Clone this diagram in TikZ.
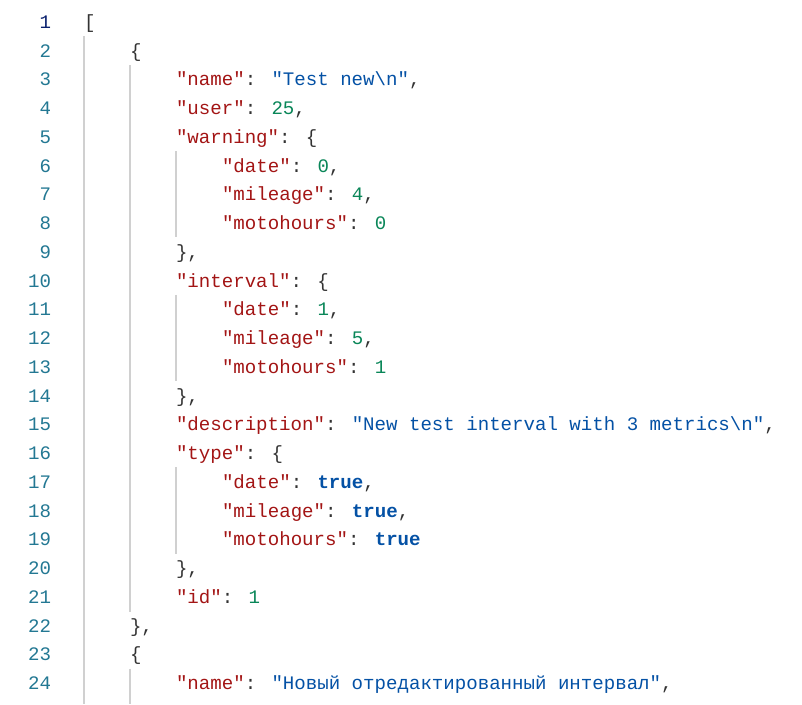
\documentclass[tikz,border=0pt]{standalone}
\usepackage{fontspec}
\newfontfamily\codefont[WordSpace={1,0,0}]{Liberation Mono}
\definecolor{jkey}{HTML}{A31515}
\definecolor{jstr}{HTML}{0451A5}
\definecolor{jnum}{HTML}{098658}
\definecolor{jpun}{HTML}{333333}
\definecolor{lnum}{HTML}{237893}
\definecolor{lnact}{HTML}{0B216F}
\definecolor{guide}{HTML}{D0D0D0}
\newcommand{\jk}[1]{\textcolor{jkey}{"#1"}}
\newcommand{\js}[1]{\textcolor{jstr}{"#1"}}
\newcommand{\jn}[1]{\textcolor{jnum}{#1}}
\newcommand{\jt}{\textcolor{jstr}{\bfseries true}}
\newcommand{\nl}{\textbackslash n}
\tikzset{
  codeline/.style={anchor=base west, inner sep=0pt, outer sep=0pt, text=jpun,
    font=\codefont\fontsize{19.1}{23}\selectfont},
  lineno/.style={anchor=base east, inner sep=0pt, outer sep=0pt, text=lnum,
    font=\codefont\fontsize{19.1}{23}\selectfont},
  indentguide/.style={draw=guide, line width=1.2pt}
}
\begin{document}
\begin{tikzpicture}[x=1pt,y=-1pt]
\useasboundingbox[fill=white] (0,0) rectangle (802,704);
% indent guides
\draw[indentguide] (84,36) coordinate (g1a) -- (84,704) coordinate (g1b);
\draw[indentguide] (130,65) coordinate (g2a) -- (130,611.75) coordinate (g2b);
\draw[indentguide] (130,668.5) coordinate (g2c) -- (130,704) coordinate (g2d);
\draw[indentguide] (176,151) coordinate (g3a) -- (176,237.25) coordinate (g3b);
\draw[indentguide] (176,294.75) coordinate (g3c) -- (176,381) coordinate (g3d);
\draw[indentguide] (176,467.25) coordinate (g3e) -- (176,553.5) coordinate (g3f);
% line numbers
\node[lineno, text=lnact] (n1) at (51,28.3) {1};
\node[lineno] (n2) at (51,57.05) {2};
\node[lineno] (n3) at (51,85.8) {3};
\node[lineno] (n4) at (51,114.55) {4};
\node[lineno] (n5) at (51,143.3) {5};
\node[lineno] (n6) at (51,172.05) {6};
\node[lineno] (n7) at (51,200.8) {7};
\node[lineno] (n8) at (51,229.55) {8};
\node[lineno] (n9) at (51,258.3) {9};
\node[lineno] (n10) at (51,287.05) {10};
\node[lineno] (n11) at (51,315.8) {11};
\node[lineno] (n12) at (51,344.55) {12};
\node[lineno] (n13) at (51,373.3) {13};
\node[lineno] (n14) at (51,402.05) {14};
\node[lineno] (n15) at (51,430.8) {15};
\node[lineno] (n16) at (51,459.55) {16};
\node[lineno] (n17) at (51,488.3) {17};
\node[lineno] (n18) at (51,517.05) {18};
\node[lineno] (n19) at (51,545.8) {19};
\node[lineno] (n20) at (51,574.55) {20};
\node[lineno] (n21) at (51,603.3) {21};
\node[lineno] (n22) at (51,632.05) {22};
\node[lineno] (n23) at (51,660.8) {23};
\node[lineno] (n24) at (51,689.55) {24};
% code lines
\node[codeline] (c1) at (84,28.3) {[};
\node[codeline] (c2) at (130,57.05) {\{};
\node[codeline] (c3) at (176,85.8) {\jk{name}: \js{Test new\nl},};
\node[codeline] (c4) at (176,114.55) {\jk{user}: \jn{25},};
\node[codeline] (c5) at (176,143.3) {\jk{warning}: \{};
\node[codeline] (c6) at (222,172.05) {\jk{date}: \jn{0},};
\node[codeline] (c7) at (222,200.8) {\jk{mileage}: \jn{4},};
\node[codeline] (c8) at (222,229.55) {\jk{motohours}: \jn{0}};
\node[codeline] (c9) at (176,258.3) {\},};
\node[codeline] (c10) at (176,287.05) {\jk{interval}: \{};
\node[codeline] (c11) at (222,315.8) {\jk{date}: \jn{1},};
\node[codeline] (c12) at (222,344.55) {\jk{mileage}: \jn{5},};
\node[codeline] (c13) at (222,373.3) {\jk{motohours}: \jn{1}};
\node[codeline] (c14) at (176,402.05) {\},};
\node[codeline] (c15) at (176,430.8) {\jk{description}: \js{New test interval with 3 metrics\nl},};
\node[codeline] (c16) at (176,459.55) {\jk{type}: \{};
\node[codeline] (c17) at (222,488.3) {\jk{date}: \jt,};
\node[codeline] (c18) at (222,517.05) {\jk{mileage}: \jt,};
\node[codeline] (c19) at (222,545.8) {\jk{motohours}: \jt};
\node[codeline] (c20) at (176,574.55) {\},};
\node[codeline] (c21) at (176,603.3) {\jk{id}: \jn{1}};
\node[codeline] (c22) at (130,632.05) {\},};
\node[codeline] (c23) at (130,660.8) {\{};
\node[codeline] (c24) at (176,689.55) {\jk{name}: \js{Новый отредактированный интервал},};
\end{tikzpicture}
\end{document}
